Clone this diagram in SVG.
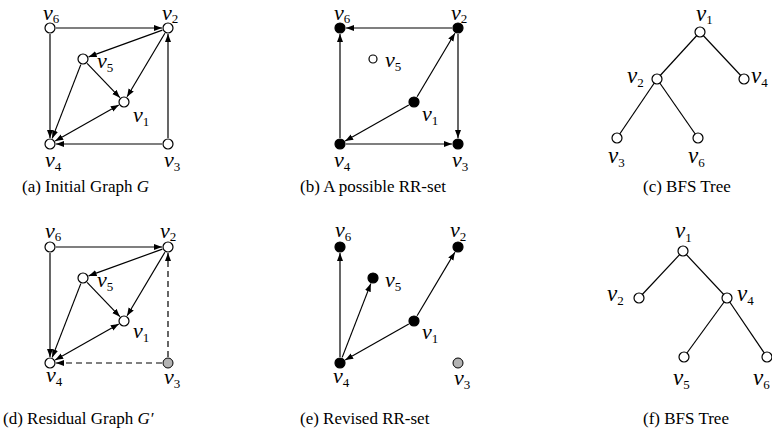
<svg xmlns="http://www.w3.org/2000/svg" width="772" height="436" viewBox="0 0 772 436">
<style>
.n{fill:#fff;stroke:#000;stroke-width:1.2}
.f{fill:#000;stroke:#000;stroke-width:1.2}
.g{fill:#b3b3b3;stroke:#000;stroke-width:1}
.e{stroke:#000;stroke-width:1.2;fill:none;marker-end:url(#ah)}
.b{marker-start:url(#ah)}
.d{stroke-dasharray:6 4}
.t{stroke:#000;stroke-width:1.2;fill:none}
.l{font-family:"Liberation Serif",serif;font-style:italic;font-size:22px}
.lt{font-family:"Liberation Serif",serif;font-style:italic;font-size:23px}
.s{font-style:normal;font-size:13px}
.cap{font-family:"Liberation Serif",serif;font-size:17px}
</style>
<defs>
<marker id="ah" markerUnits="userSpaceOnUse" markerWidth="9" markerHeight="7" refX="8" refY="3" orient="auto-start-reverse">
<path d="M0,0 L8,3 L0,6 z" fill="#000"/>
</marker>
</defs>
<rect width="772" height="436" fill="#fff"/>

<!-- (a) -->
<g id="panel-a">
<g id="a-edges">
<line class="e" x1="56" y1="28" x2="162" y2="28"/>
<line class="e" x1="50" y1="34" x2="50" y2="138"/>
<line class="e" x1="168" y1="138" x2="168" y2="34"/>
<line class="e" x1="162" y1="144" x2="56" y2="144"/>
<line class="e" x1="162.4" y1="30.1" x2="88.6" y2="56.9"/>
<line class="e" x1="164.9" y1="33.2" x2="127.1" y2="96.8"/>
<line class="e" x1="87.1" y1="63.3" x2="119.9" y2="97.7"/>
<line class="e" x1="80.8" y1="64.6" x2="52.2" y2="138.4"/>
<line class="e b" x1="55.2" y1="141" x2="118.8" y2="105"/>
</g>
<g id="a-v1"><circle class="n" cx="124" cy="102" r="5"/><text class="l" x="133" y="122">v<tspan class="s" dy="4">1</tspan></text></g>
<g id="a-v2"><circle class="n" cx="168" cy="28" r="5"/><text class="l" x="162" y="20">v<tspan class="s" dy="3">2</tspan></text></g>
<g id="a-v3"><circle class="n" cx="168" cy="144" r="5"/><text class="l" x="164" y="167">v<tspan class="s" dy="4">3</tspan></text></g>
<g id="a-v4"><circle class="n" cx="50" cy="144" r="5"/><text class="l" x="45" y="167">v<tspan class="s" dy="4">4</tspan></text></g>
<g id="a-v5"><circle class="n" cx="83" cy="59" r="5"/><text class="l" x="97" y="68">v<tspan class="s" dy="4">5</tspan></text></g>
<g id="a-v6"><circle class="n" cx="50" cy="28" r="5"/><text class="l" x="43" y="20">v<tspan class="s" dy="3">6</tspan></text></g>
<text class="cap" x="22" y="192">(a) Initial Graph <tspan font-style="italic">G</tspan></text>
</g>

<!-- (b) -->
<g id="panel-b">
<g id="b-edges" transform="translate(290,0)">
<line class="e" x1="162" y1="28" x2="56" y2="28"/>
<line class="e" x1="50" y1="138" x2="50" y2="34"/>
<line class="e" x1="168" y1="34" x2="168" y2="138"/>
<line class="e" x1="56" y1="144" x2="162" y2="144"/>
<line class="e" x1="127.1" y1="96.8" x2="164.9" y2="33.2"/>
<line class="e" x1="118.8" y1="105" x2="55.2" y2="141"/>
</g>
<g id="b-v1"><circle class="f" cx="414" cy="102" r="5"/><text class="l" x="422" y="121">v<tspan class="s" dy="4">1</tspan></text></g>
<g id="b-v2"><circle class="f" cx="458" cy="28" r="5"/><text class="l" x="451" y="20">v<tspan class="s" dy="3">2</tspan></text></g>
<g id="b-v3"><circle class="f" cx="458" cy="144" r="5"/><text class="l" x="452" y="167">v<tspan class="s" dy="4">3</tspan></text></g>
<g id="b-v4"><circle class="f" cx="340" cy="144" r="5"/><text class="l" x="334" y="167">v<tspan class="s" dy="4">4</tspan></text></g>
<g id="b-v5"><circle class="n" cx="373" cy="59" r="4"/><text class="l" x="385" y="67">v<tspan class="s" dy="4">5</tspan></text></g>
<g id="b-v6"><circle class="f" cx="340" cy="28" r="5"/><text class="l" x="334" y="20">v<tspan class="s" dy="3">6</tspan></text></g>
<text class="cap" x="300" y="192">(b) A possible RR-set</text>
</g>

<!-- (c) -->
<g id="panel-c">
<g id="c-edges">
<line class="t" x1="700" y1="32" x2="657" y2="79"/>
<line class="t" x1="700" y1="32" x2="744" y2="79"/>
<line class="t" x1="657" y1="79" x2="617" y2="138"/>
<line class="t" x1="657" y1="79" x2="698" y2="138"/>
</g>
<g id="c-v1"><circle class="n" cx="700" cy="32" r="5"/><text class="lt" x="696" y="21">v<tspan class="s" dy="3">1</tspan></text></g>
<g id="c-v2"><circle class="n" cx="657" cy="79" r="5"/><text class="lt" x="627" y="83">v<tspan class="s" dy="4">2</tspan></text></g>
<g id="c-v4"><circle class="n" cx="744" cy="79" r="5"/><text class="lt" x="751" y="83">v<tspan class="s" dy="4">4</tspan></text></g>
<g id="c-v3"><circle class="n" cx="617" cy="138" r="5"/><text class="lt" x="608" y="163">v<tspan class="s" dy="4">3</tspan></text></g>
<g id="c-v6"><circle class="n" cx="698" cy="138" r="5"/><text class="lt" x="688" y="163">v<tspan class="s" dy="4">6</tspan></text></g>
<text class="cap" x="643" y="192">(c) BFS Tree</text>
</g>

<!-- (d) -->
<g id="panel-d">
<g id="d-edges" transform="translate(0,219)">
<line class="e" x1="56" y1="28" x2="162" y2="28"/>
<line class="e" x1="50" y1="34" x2="50" y2="138"/>
<line class="e d" x1="168" y1="138" x2="168" y2="34"/>
<line class="e d" x1="162" y1="144" x2="56" y2="144"/>
<line class="e" x1="162.4" y1="30.1" x2="88.6" y2="56.9"/>
<line class="e" x1="164.9" y1="33.2" x2="127.1" y2="96.8"/>
<line class="e" x1="87.1" y1="63.3" x2="119.9" y2="97.7"/>
<line class="e" x1="80.8" y1="64.6" x2="52.2" y2="138.4"/>
<line class="e b" x1="55.2" y1="141" x2="118.8" y2="105"/>
</g>
<g id="d-v1"><circle class="n" cx="124" cy="321" r="5"/><text class="l" x="133" y="338">v<tspan class="s" dy="4">1</tspan></text></g>
<g id="d-v2"><circle class="n" cx="168" cy="247" r="5"/><text class="l" x="160" y="238">v<tspan class="s" dy="3">2</tspan></text></g>
<g id="d-v3"><circle class="g" cx="168" cy="363" r="5"/><text class="l" x="164" y="384">v<tspan class="s" dy="4">3</tspan></text></g>
<g id="d-v4"><circle class="n" cx="50" cy="363" r="5"/><text class="l" x="46" y="382">v<tspan class="s" dy="4">4</tspan></text></g>
<g id="d-v5"><circle class="n" cx="83" cy="278" r="5"/><text class="l" x="97" y="287">v<tspan class="s" dy="4">5</tspan></text></g>
<g id="d-v6"><circle class="n" cx="50" cy="247" r="5"/><text class="l" x="45" y="238">v<tspan class="s" dy="3">6</tspan></text></g>
<text class="cap" x="3" y="424">(d) Residual Graph <tspan font-style="italic">G′</tspan></text>
</g>

<!-- (e) -->
<g id="panel-e">
<g id="e-edges" transform="translate(290,219)">
<line class="e" x1="50" y1="138" x2="50" y2="34"/>
<line class="e" x1="52.2" y1="138.4" x2="80.8" y2="64.6"/>
<line class="e" x1="127.1" y1="96.8" x2="164.9" y2="33.2"/>
<line class="e" x1="118.8" y1="105" x2="55.2" y2="141"/>
</g>
<g id="e-v1"><circle class="f" cx="414" cy="321" r="5"/><text class="l" x="422" y="339">v<tspan class="s" dy="4">1</tspan></text></g>
<g id="e-v2"><circle class="f" cx="458" cy="247" r="5"/><text class="l" x="450" y="237">v<tspan class="s" dy="4">2</tspan></text></g>
<g id="e-v3"><circle class="g" cx="458" cy="363" r="5"/><text class="l" x="454" y="385">v<tspan class="s" dy="4">3</tspan></text></g>
<g id="e-v4"><circle class="f" cx="340" cy="363" r="5"/><text class="l" x="333" y="383">v<tspan class="s" dy="4">4</tspan></text></g>
<g id="e-v5"><circle class="f" cx="373" cy="278" r="5"/><text class="l" x="385" y="287">v<tspan class="s" dy="4">5</tspan></text></g>
<g id="e-v6"><circle class="f" cx="340" cy="247" r="5"/><text class="l" x="335" y="237">v<tspan class="s" dy="4">6</tspan></text></g>
<text class="cap" x="300" y="424">(e) Revised RR-set</text>
</g>

<!-- (f) -->
<g id="panel-f">
<g id="f-edges">
<line class="t" x1="683" y1="251" x2="639" y2="298"/>
<line class="t" x1="683" y1="251" x2="727" y2="298"/>
<line class="t" x1="727" y1="298" x2="684" y2="357"/>
<line class="t" x1="727" y1="298" x2="767" y2="357"/>
</g>
<g id="f-v1"><circle class="n" cx="683" cy="251" r="5"/><text class="lt" x="675" y="238">v<tspan class="s" dy="4">1</tspan></text></g>
<g id="f-v2"><circle class="n" cx="639" cy="298" r="5"/><text class="lt" x="607" y="301">v<tspan class="s" dy="4">2</tspan></text></g>
<g id="f-v4"><circle class="n" cx="727" cy="298" r="5"/><text class="lt" x="737" y="301">v<tspan class="s" dy="4">4</tspan></text></g>
<g id="f-v5"><circle class="n" cx="684" cy="357" r="5"/><text class="lt" x="673" y="385">v<tspan class="s" dy="4">5</tspan></text></g>
<g id="f-v6"><circle class="n" cx="767" cy="357" r="5"/><text class="lt" x="753" y="385">v<tspan class="s" dy="4">6</tspan></text></g>
<text class="cap" x="643" y="424">(f) BFS Tree</text>
</g>
</svg>
